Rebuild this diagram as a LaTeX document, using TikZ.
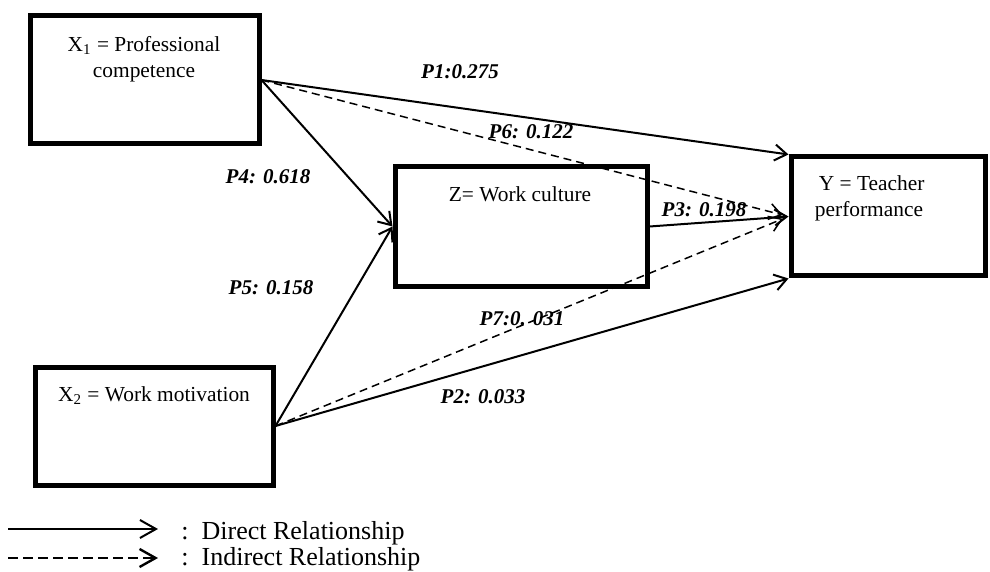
\documentclass[tikz,border=0pt]{standalone}
\usepackage{fontspec}
\setmainfont{Liberation Serif}
\usetikzlibrary{positioning}
\usetikzlibrary{arrows.meta}

\begin{document}
\begin{tikzpicture}[x=0.5pt,y=-0.5pt,
    varbox/.style={draw, rectangle, line width=2.5pt, inner sep=0pt},
    boxtext/.style={font=\fontsize{10.7}{13}\selectfont, align=center, anchor=north, inner sep=0pt},
    direct/.style={-{Straight Barb[length=6pt,width=8pt]}, line width=1pt},
    indirect/.style={direct, dash pattern=on 4pt off 2.5pt, line width=0.75pt, shorten >=3pt},
    coef/.style={font=\fontsize{10.5}{12}\selectfont\bfseries\itshape, inner sep=0pt},
    legtext/.style={font=\fontsize{13}{15}\selectfont, anchor=base west, inner sep=0pt}]
            \useasboundingbox (0,0) rectangle (990,572);

            % variables
            \node[varbox, minimum width=114.5pt, minimum height=64pt] (x1) at (144.5,80) {};
            \node[varbox, minimum width=119pt, minimum height=59pt] (x2) at (154,426) {};
            \node[varbox, minimum width=126pt, minimum height=59.5pt] (z) at (521,226.5) {};
            \node[varbox, minimum width=97pt, minimum height=59.5pt] (y) at (888,216.5) {};

            \node[boxtext] (x1lbl) at (144,36) {X\textsubscript{1} = Professional\\competence};
            \node[boxtext] (x2lbl) at (154,386) {X\textsubscript{2} = Work motivation};
            \node[boxtext] (zlbl) at (520,186) {Z= Work culture};
            \node[boxtext] (ylbl) at (869,175) {\ Y = Teacher\\performance};

            % paths
            \draw[direct] (x1.east) -- (y.north west);
            \draw[indirect] (x1.east) -- (y.west);
            \draw[direct] (x1.east) -- (z.west);
            \draw[direct] (x2.east) -- (z.west);
            \draw[indirect] (x2.east) -- (y.west);
            \draw[direct] (x2.east) -- (y.south west);
            \draw[direct] (z.east) -- (y.west);

            \node[coef] (p1) at (460,72) {P1:0.275};
            \node[coef] (p6) at (531,132) {P6: 0.122};
            \node[coef] (p4) at (268,177) {P4: 0.618};
            \node[coef] (p5) at (271,288) {P5: 0.158};
            \node[coef] (p7) at (522,319) {P7:0. 031};
            \node[coef] (p2) at (483,397) {P2: 0.033};
            \node[coef] (p3) at (704,210) {P3: 0.198};

            % legend
            \coordinate (da) at (8,529);
            \coordinate (db) at (158,529);
            \coordinate (ia) at (8,558);
            \coordinate (ib) at (158,558);
            \draw[direct, -{Straight Barb[length=8pt,width=9pt]}] (da) -- (db);
            \draw[dash pattern=on 5pt off 2.5pt, line width=1.2pt, -{Straight Barb[length=8pt,width=9pt]}] (ia) -- (ib);
            \node[legtext] (dlbl) at (181,539) {:\ \ Direct Relationship};
            \node[legtext] (ilbl) at (181,565) {:\ \ Indirect Relationship};
\end{tikzpicture}
\end{document}
